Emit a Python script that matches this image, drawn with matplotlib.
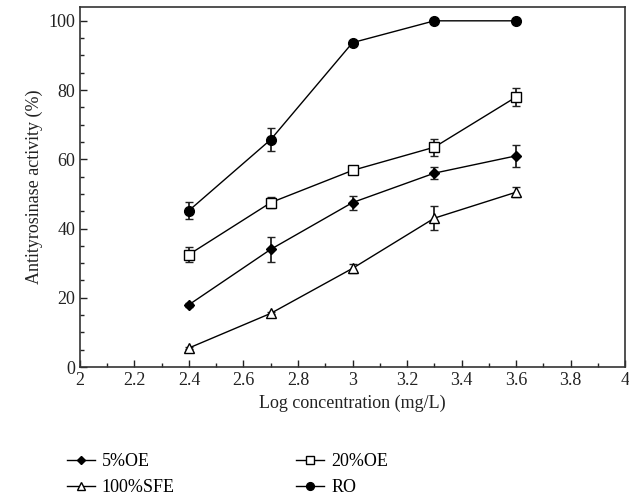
import matplotlib
matplotlib.use("Agg")
import matplotlib.pyplot as plt
from matplotlib.ticker import MultipleLocator
from matplotlib.lines import Line2D

plt.rcParams["font.family"] = ["Liberation Serif", "DejaVu Serif"]

log_conc = [2.4, 2.7, 3.0, 3.3, 3.6]

oe5 = [18.0, 34.0, 47.5, 56.0, 61.0]
oe5_err = [0.6, 3.7, 2.0, 1.8, 3.2]
oe20 = [32.5, 47.5, 56.8, 63.5, 78.0]
oe20_err = [2.2, 1.6, 0.5, 2.5, 2.5]
sfe100 = [5.5, 15.5, 28.5, 43.0, 50.5]
sfe100_err = [0.3, 0.3, 1.2, 3.5, 1.5]
ro = [45.2, 65.7, 93.7, 100.0, 100.0]
ro_err = [2.4, 3.2, 0.3, 0.0, 0.0]

series = [
    ("5%OE", oe5, oe5_err, "D", "k", 5),
    ("20%OE", oe20, oe20_err, "s", "white", 6.5),
    ("100%SFE", sfe100, sfe100_err, "^", "white", 7),
    ("RO", ro, ro_err, "o", "k", 7),
]

fig = plt.figure(figsize=(6.29, 4.98), dpi=100)
ax = fig.add_axes([0.127, 0.263, 0.867, 0.723])

handles = {}
for label, vals, err, mk, fc, ms in series:
    ax.errorbar(log_conc, vals, yerr=err, color="k", lw=1, marker=mk, ms=ms,
                mfc=fc, mec="k", mew=1, ecolor="#222222", elinewidth=1.3,
                capsize=3, capthick=1.3, zorder=3)
    handles[label] = Line2D([], [], color="k", lw=1, marker=mk,
                            ms=ms * 0.8, mfc=fc, mec="k", mew=1)

ax.set_xlim(2, 4)
ax.set_ylim(0, 104)
ax.xaxis.set_minor_locator(MultipleLocator(0.1))
ax.yaxis.set_major_locator(MultipleLocator(20))
ax.yaxis.set_minor_locator(MultipleLocator(5))
ax.set_xticks([2, 2.2, 2.4, 2.6, 2.8, 3, 3.2, 3.4, 3.6, 3.8, 4])
ax.set_xticklabels(["2", "2.2", "2.4", "2.6", "2.8", "3", "3.2", "3.4", "3.6", "3.8", "4"])
ax.tick_params(which="both", direction="in", top=False, right=False,
               labelsize=13, colors="#222222")
ax.tick_params(which="major", length=5, width=1)
ax.tick_params(which="minor", length=3, width=1)
for s in ax.spines.values():
    s.set_linewidth(1.2)
    s.set_color("#333333")

ax.set_xlabel("Log concentration (mg/L)", fontsize=13, color="#222222")
ax.set_ylabel("Antityrosinase activity (%)", fontsize=13, color="#222222")

order = ["5%OE", "100%SFE", "20%OE", "RO"]
fig.legend([handles[k] for k in order], order, ncol=2, frameon=False,
           loc="lower left", bbox_to_anchor=(0.106, 0.004), fontsize=13,
           borderpad=0, borderaxespad=0,
           handlelength=1.55, handletextpad=0.4, columnspacing=6.7,
           labelspacing=0.5)

fig.savefig("out.png", dpi=100)
